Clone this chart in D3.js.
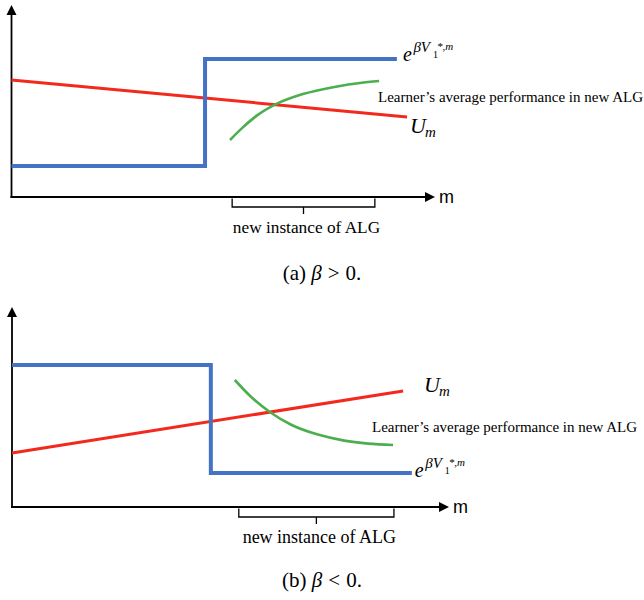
<!DOCTYPE html>
<html><head><meta charset="utf-8">
<script src="https://cdn.jsdelivr.net/npm/d3@7"></script>
<style>
html,body{margin:0;padding:0;background:#fff;}
svg{display:block;}
</style></head>
<body>
<svg id="c" width="644" height="600"></svg>
<script>
// ---- data (x: m in 0..100 axis units, y: value in 0..100 axis units) ----
const panelA_blue  = [[0,16.1],[45.7,16.1],[45.7,71.9],[91.0,71.9]];
const panelA_red   = [[0,60.9],[93.4,41.7]];
const panelA_green = [[51.6,29.7],[54.5,36.0],[58.0,42.5],[62.7,48.6],[68.8,53.6],[76.9,57.6],[82.3,59.4],[86.8,60.4]];
const panelA_brace = [52.1,85.8];

const panelB_blue  = [[0,71],[45.5,71],[45.5,17],[91.5,17]];
const panelB_red   = [[0,27],[89.5,58]];
const panelB_green = [[51.0,63.5],[54.5,55.5],[59.0,47.5],[64.0,41.0],[70.0,36.2],[76.0,33.2],[81.5,31.7],[87.2,31]];
const panelB_brace = [51.9,87.4];

const labelText  = "Learner\u2019s average performance in new ALG";
const braceText  = "new instance of ALG";
const captions   = [["(a) ","\u03b2",">","0."],["(b) ","\u03b2","<","0."]];
const axisLabel  = "m";

const colors = {blue:"#4472C4", red:"#F2291C", green:"#4CAE4F"};
const SERIF = "'Liberation Serif', Tinos, 'Times New Roman', serif";

const svg = d3.select("#c");

const panels = [
  {blue:panelA_blue, red:panelA_red, green:panelA_green, brace:panelA_brace, cap:captions[0],
   x:d3.scaleLinear().domain([0,100]).range([11.5,435]),
   y:d3.scaleLinear().domain([0,100]).range([197,5]),
   lab:{x:378,y:102,size:15}, brf:17.3, eoff:[6,2], uoff:[3,16], order:"a"},
  {blue:panelB_blue, red:panelB_red, green:panelB_green, brace:panelB_brace, cap:captions[1],
   x:d3.scaleLinear().domain([0,100]).range([12,449]),
   y:d3.scaleLinear().domain([0,100]).range([507,307]),
   lab:{x:372,y:432,size:15}, brf:18, eoff:[3,4], uoff:[21,1], order:"b"}
];

panels.forEach(p => {
  const g = svg.append("g");
  const x = p.x, y = p.y;
  const line = d3.line().x(d=>x(d[0])).y(d=>y(d[1]));
  const x0 = x(0), y0 = y(0), xT = x(100), yT = y(100);

  // axes
  g.append("line").attr("x1",x0).attr("y1",y0+1).attr("x2",x0).attr("y2",yT+8)
    .attr("stroke","#000").attr("stroke-width",1.8);
  g.append("line").attr("x1",x0-1).attr("y1",y0).attr("x2",xT-8).attr("y2",y0)
    .attr("stroke","#000").attr("stroke-width",1.8);
  g.append("path").attr("d",`M${x0},${yT} L${x0-5},${yT+10} L${x0+5},${yT+10} Z`).attr("fill","#000");
  g.append("path").attr("d",`M${xT},${y0} L${xT-10},${y0-5} L${xT-10},${y0+5} Z`).attr("fill","#000");
  g.append("text").attr("x",xT+4).attr("y",y0+6).attr("font-family","'Liberation Sans', Arial, sans-serif")
    .attr("font-size",18).text(axisLabel);

  // series
  g.append("path").attr("d",line(p.red)).attr("fill","none").attr("stroke",colors.red).attr("stroke-width",3);
  g.append("path").attr("d",line(p.blue)).attr("fill","none").attr("stroke",colors.blue).attr("stroke-width",4)
    .attr("stroke-linejoin","miter");
  g.append("path").attr("d",line.curve(d3.curveMonotoneX)(p.green)).attr("fill","none")
    .attr("stroke",colors.green).attr("stroke-width",2.6);

  // brace
  const bl = x(p.brace[0]), br = x(p.brace[1]), bc = (bl+br)/2;
  const bt = y0+1.5, bb = y0+10;
  g.append("path").attr("d",`M${bl},${bt} L${bl},${bb} L${br},${bb} L${br},${bt} M${bc},${bb} L${bc},${bb+7}`)
    .attr("fill","none").attr("stroke","#000").attr("stroke-width",1.3);
  g.append("text").attr("font-family",SERIF).attr("x",bc+3).attr("y",bb+26).attr("text-anchor","middle")
    .attr("font-size",p.brf).text(braceText);

  // green label
  g.append("text").attr("font-family",SERIF).attr("x",p.lab.x).attr("y",p.lab.y)
    .attr("font-size",p.lab.size).text(labelText);

  // U_m label at end of red
  const re = p.red[p.red.length-1];
  const ut = g.append("text").attr("font-family",SERIF).attr("x",x(re[0])+p.uoff[0]).attr("y",y(re[1])+p.uoff[1])
    .attr("font-style","italic");
  ut.append("tspan").attr("font-size",22).text("U");
  ut.append("tspan").attr("font-size",15).attr("dy",4).attr("dx",-1).text("m");

  // e^{beta V_1^{*,m}} label at end of blue
  const be = p.blue[p.blue.length-1];
  const ex = x(be[0])+p.eoff[0], ey = y(be[1])+p.eoff[1];
  g.append("text").attr("font-family",SERIF).attr("x",ex).attr("y",ey).attr("font-style","italic").attr("font-size",20).text("e");
  g.append("text").attr("font-family",SERIF).attr("x",ex+10.5).attr("y",ey-9).attr("font-style","italic").attr("font-size",15).text("\u03b2V");
  g.append("text").attr("font-family",SERIF).attr("x",ex+30).attr("y",ey-3).attr("font-size",10).text("1");
  g.append("text").attr("font-family",SERIF).attr("x",ex+34).attr("y",ey-11).attr("font-style","italic").attr("font-size",11).text("*,m");

  // caption
  const cy = y0 + (p.order==="a" ? 83 : 80);
  const ct = g.append("text").attr("font-family",SERIF).attr("x",322).attr("y",cy).attr("text-anchor","middle").attr("font-size",21);
  ct.append("tspan").text(p.cap[0]);
  ct.append("tspan").attr("font-style","italic").text(p.cap[1]);
  ct.append("tspan").attr("dx",6).text(p.cap[2]);
  ct.append("tspan").attr("dx",6).text(p.cap[3]);
});
</script>
</body></html>
